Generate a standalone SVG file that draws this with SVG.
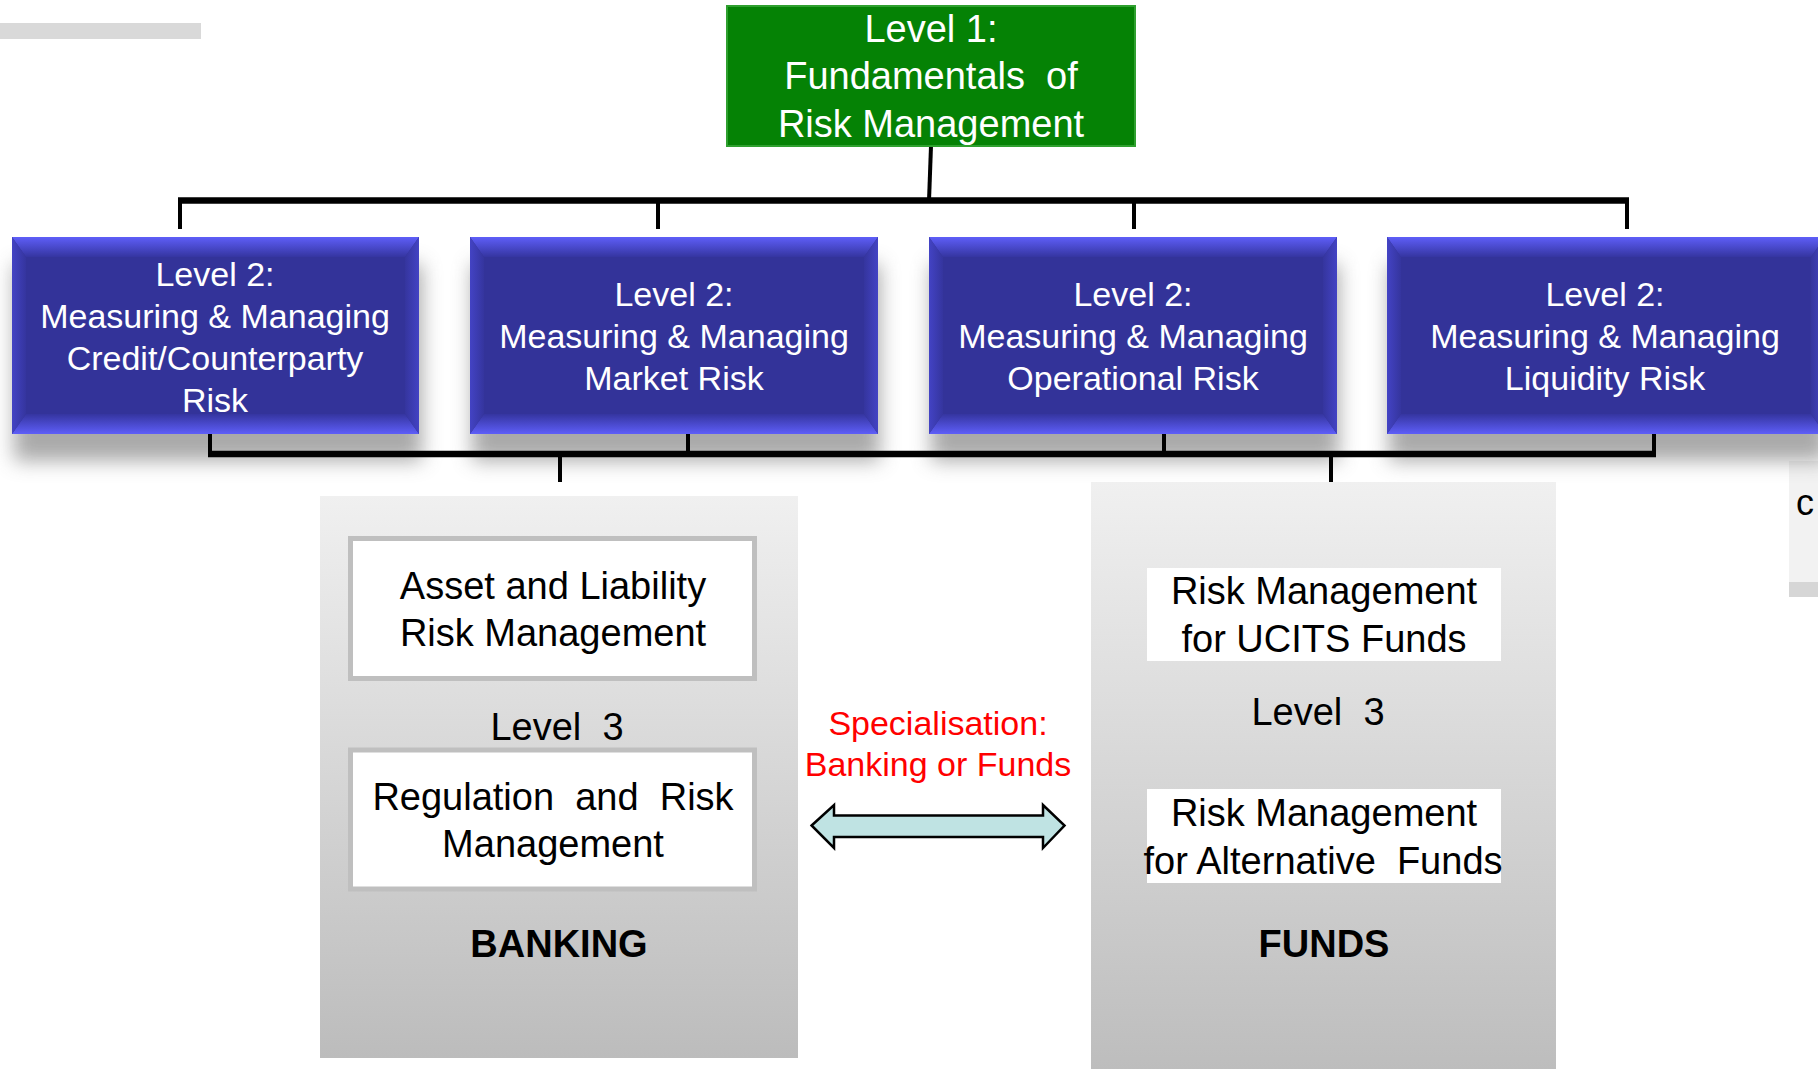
<svg xmlns="http://www.w3.org/2000/svg" width="1818" height="1069" viewBox="0 0 1818 1069">
<style>
text{font-family:"Liberation Sans",Arial,sans-serif;white-space:pre;text-anchor:middle}
.g{fill:#fff;font-size:38px}
.w{fill:#fff;font-size:34px}
.k{fill:#000;font-size:38px}
.b{fill:#000;font-size:38px;font-weight:bold}
.r{fill:#ff0000;font-size:34px}
.ln{stroke:#000;fill:none}
.base{fill:#333399}
</style>
<defs>
<linearGradient id="bvTop" x1="0" y1="0" x2="0" y2="1"><stop offset="0" stop-color="#5e5ef8"/><stop offset="1" stop-color="#3535a0"/></linearGradient>
<linearGradient id="bvBot" x1="0" y1="0" x2="0" y2="1"><stop offset="0" stop-color="#3535a0"/><stop offset="1" stop-color="#5e5ef8"/></linearGradient>
<linearGradient id="bvL" x1="0" y1="0" x2="1" y2="0"><stop offset="0" stop-color="#4343c4"/><stop offset="1" stop-color="#35359e"/></linearGradient>
<linearGradient id="bvR" x1="0" y1="0" x2="1" y2="0"><stop offset="0" stop-color="#35359e"/><stop offset="1" stop-color="#4343c4"/></linearGradient>
<linearGradient id="panel" x1="0" y1="0" x2="0" y2="1"><stop offset="0" stop-color="#f0f0f0"/><stop offset="1" stop-color="#bcbcbc"/></linearGradient>
<filter id="sh" x="-10%" y="-20%" width="120%" height="160%"><feGaussianBlur stdDeviation="10"/></filter>
</defs>

<rect x="0" y="23" width="201" height="16" fill="#d9d9d9"/>

<g id="right-edge-box">
<rect x="1789" y="461" width="40" height="136" fill="#f2f2f2"/>
<rect x="1789" y="582" width="40" height="15" fill="#d6d6d6"/>
<text x="1796" y="515" style="font-size:36px;fill:#000;text-anchor:start">c</text>
</g>

<g id="shadows" filter="url(#sh)" opacity="0.5">
<rect x="14" y="264" width="408" height="197" fill="#555"/>
<rect x="472" y="264" width="408" height="197" fill="#555"/>
<rect x="931" y="264" width="408" height="197" fill="#555"/>
<rect x="1389" y="264" width="438" height="197" fill="#555"/>
</g>

<g id="banking">
<rect x="320" y="496" width="478" height="562" fill="url(#panel)"/>
<rect x="350.5" y="538.5" width="404" height="140" fill="#fff" stroke="#bfbfbf" stroke-width="5"/>
<text class="k" x="553" y="599">Asset and Liability</text>
<text class="k" x="553" y="646">Risk Management</text>
<text class="k" x="557" y="740">Level  3</text>
<rect x="350.5" y="750" width="404" height="139" fill="#fff" stroke="#bfbfbf" stroke-width="5"/>
<text class="k" x="553" y="810">Regulation  and  Risk</text>
<text class="k" x="553" y="857">Management</text>
<text class="b" x="559" y="957">BANKING</text>
</g>

<g id="funds">
<rect x="1091" y="482" width="465" height="600" fill="url(#panel)"/>
<rect x="1147" y="568" width="354" height="93" fill="#fff"/>
<text class="k" x="1324" y="604">Risk Management</text>
<text class="k" x="1324" y="652">for UCITS Funds</text>
<text class="k" x="1318" y="725">Level  3</text>
<rect x="1147" y="789" width="354" height="94" fill="#fff"/>
<text class="k" x="1324" y="826">Risk Management</text>
<text class="k" x="1323" y="874">for Alternative  Funds</text>
<text class="b" x="1324" y="957">FUNDS</text>
</g>

<g id="specialisation">
<text class="r" x="938" y="735">Specialisation:</text>
<text class="r" x="938" y="776">Banking or Funds</text>
<polygon points="811.6,825.5 834,805 834,815.5 1043,815.5 1043,805 1064.5,825.5 1043,848 1043,837 834,837 834,848" fill="#bfe3e3" stroke="#000" stroke-width="2.5" stroke-linejoin="miter"/>
</g>

<g id="connectors" class="ln">
<line x1="931" y1="146" x2="929" y2="201" stroke-width="4"/>
<line x1="178" y1="200.5" x2="1629" y2="200.5" stroke-width="6.5"/>
<line x1="180" y1="200" x2="180" y2="229" stroke-width="4"/>
<line x1="658" y1="200" x2="658" y2="229" stroke-width="4"/>
<line x1="1134" y1="200" x2="1134" y2="229" stroke-width="4"/>
<line x1="1627" y1="200" x2="1627" y2="229" stroke-width="4"/>
<line x1="210" y1="433" x2="210" y2="454" stroke-width="4"/>
<line x1="688" y1="433" x2="688" y2="454" stroke-width="4"/>
<line x1="1164" y1="433" x2="1164" y2="454" stroke-width="4"/>
<line x1="1654" y1="433" x2="1654" y2="454" stroke-width="4"/>
<line x1="208" y1="454" x2="1656" y2="454" stroke-width="6.5"/>
<line x1="560" y1="454" x2="560" y2="482" stroke-width="4"/>
<line x1="1331" y1="454" x2="1331" y2="482" stroke-width="4"/>
</g>

<g id="level1">
<rect x="727" y="6" width="408" height="140" fill="#058205" stroke="#2fa02f" stroke-width="2"/>
<text class="g" x="931" y="42">Level 1:</text>
<text class="g" x="931" y="89">Fundamentals  of</text>
<text class="g" x="931" y="137">Risk Management</text>
</g>

<g id="level2-credit" transform="translate(12,237)">
<rect class="base" width="407" height="197"/>
<polygon points="0,0 407,0 393,20 14,20" fill="url(#bvTop)"/>
<polygon points="0,197 407,197 393,177 14,177" fill="url(#bvBot)"/>
<polygon points="0,0 14,20 14,177 0,197" fill="url(#bvL)"/>
<polygon points="407,0 393,20 393,177 407,197" fill="url(#bvR)"/>
<text class="w" x="203" y="49">Level 2:</text>
<text class="w" x="203" y="91">Measuring &amp; Managing</text>
<text class="w" x="203" y="133">Credit/Counterparty</text>
<text class="w" x="203" y="175">Risk</text>
</g>

<g id="level2-market" transform="translate(470,237)">
<rect class="base" width="408" height="197"/>
<polygon points="0,0 408,0 394,20 14,20" fill="url(#bvTop)"/>
<polygon points="0,197 408,197 394,177 14,177" fill="url(#bvBot)"/>
<polygon points="0,0 14,20 14,177 0,197" fill="url(#bvL)"/>
<polygon points="408,0 394,20 394,177 408,197" fill="url(#bvR)"/>
<text class="w" x="204" y="69">Level 2:</text>
<text class="w" x="204" y="111">Measuring &amp; Managing</text>
<text class="w" x="204" y="153">Market Risk</text>
</g>

<g id="level2-operational" transform="translate(929,237)">
<rect class="base" width="408" height="197"/>
<polygon points="0,0 408,0 394,20 14,20" fill="url(#bvTop)"/>
<polygon points="0,197 408,197 394,177 14,177" fill="url(#bvBot)"/>
<polygon points="0,0 14,20 14,177 0,197" fill="url(#bvL)"/>
<polygon points="408,0 394,20 394,177 408,197" fill="url(#bvR)"/>
<text class="w" x="204" y="69">Level 2:</text>
<text class="w" x="204" y="111">Measuring &amp; Managing</text>
<text class="w" x="204" y="153">Operational Risk</text>
</g>

<g id="level2-liquidity" transform="translate(1387,237)">
<rect class="base" width="438" height="197"/>
<polygon points="0,0 438,0 424,20 14,20" fill="url(#bvTop)"/>
<polygon points="0,197 438,197 424,177 14,177" fill="url(#bvBot)"/>
<polygon points="0,0 14,20 14,177 0,197" fill="url(#bvL)"/>
<polygon points="438,0 424,20 424,177 438,197" fill="url(#bvR)"/>
<text class="w" x="218" y="69">Level 2:</text>
<text class="w" x="218" y="111">Measuring &amp; Managing</text>
<text class="w" x="218" y="153">Liquidity Risk</text>
</g>
</svg>
